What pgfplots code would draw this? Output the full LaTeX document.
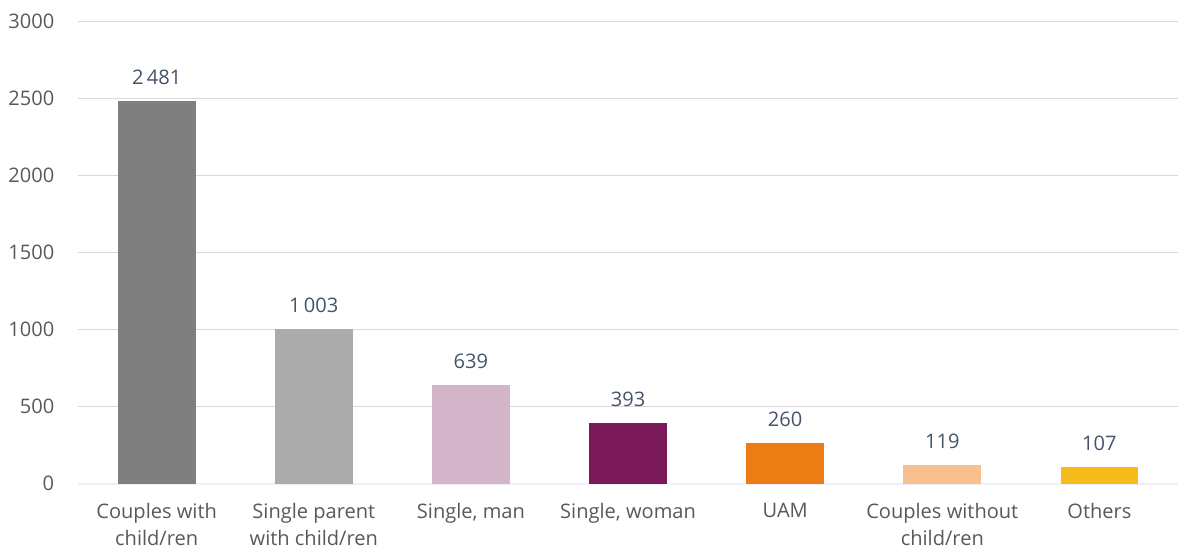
\documentclass[border=0pt]{standalone}
\usepackage{fontspec}
\setmainfont{Open Sans}
\usepackage{pgfplots}
\pgfplotsset{compat=1.18}
\definecolor{txt}{HTML}{595959}
\definecolor{vals}{HTML}{44546A}
\definecolor{gridc}{HTML}{D9D9D9}
\definecolor{cA}{HTML}{7F7F7F}
\definecolor{cB}{HTML}{ABABAB}
\definecolor{cC}{HTML}{D3B5C9}
\definecolor{cD}{HTML}{7B1A5A}
\definecolor{cE}{HTML}{EC7D14}
\definecolor{cF}{HTML}{F8C08E}
\definecolor{cG}{HTML}{F7BC1C}
\begin{document}
\begin{tikzpicture}
\begin{axis}[
    ybar, bar width=31pt, bar shift=0pt,
    scale only axis,
    width=438.8pt, height=184.4pt,
    xmin=-0.5, xmax=6.5,
    ymin=0, ymax=3000,
    ytick={0,500,...,3000},
    xtick={0,...,6},
    xticklabels={Couples with\\child/ren, Single parent\\with child/ren, {Single, man}, {Single, woman}, UAM, Couples without\\child/ren, Others},
    x tick label style={align=center, font=\fontsize{8}{10.8}\selectfont, text=txt, yshift=-4.2pt},
    y tick label style={font=\fontsize{8}{10}\selectfont, text=txt, xshift=-6pt},
    /pgf/number format/assume math mode=true,
    scaled y ticks=false,
    yticklabel style={/pgf/number format/1000 sep={}},
    ymajorgrids, grid style={gridc, line width=0.6pt},
    axis x line*=bottom, axis y line*=left,
    y axis line style={draw=none},
    x axis line style={draw=gridc!80!blue!20, line width=0.8pt},
    major tick length=0pt,
    nodes near coords,
    nodes near coords style={font=\fontsize{8}{10}\selectfont, text=vals, anchor=south, yshift=3pt,
      /pgf/number format/1000 sep={\,}},
]
\addplot[fill=cA, draw=none] coordinates {(0,2481)};
\addplot[fill=cB, draw=none] coordinates {(1,1003)};
\addplot[fill=cC, draw=none] coordinates {(2,639)};
\addplot[fill=cD, draw=none] coordinates {(3,393)};
\addplot[fill=cE, draw=none] coordinates {(4,260)};
\addplot[fill=cF, draw=none] coordinates {(5,119)};
\addplot[fill=cG, draw=none] coordinates {(6,107)};
\end{axis}
\path ([yshift=8.5pt]current axis.north);
\end{tikzpicture}
\end{document}
